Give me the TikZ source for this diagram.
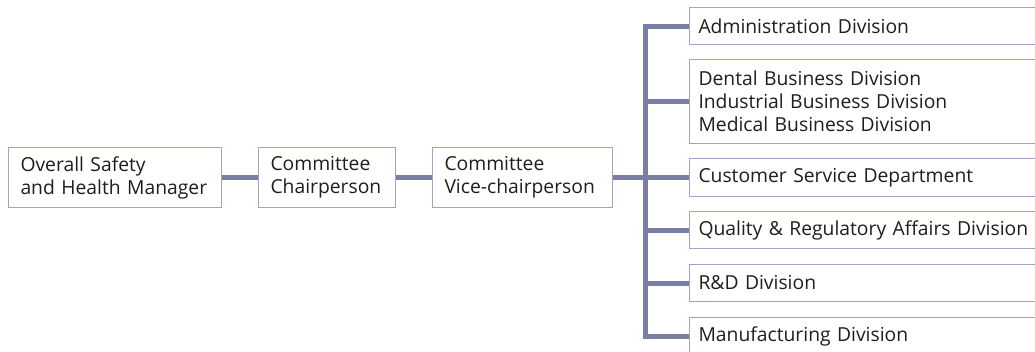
\documentclass[tikz,border=0pt]{standalone}
\usepackage{fontspec}
\setmainfont{Open Sans}
\definecolor{linec}{RGB}{122,126,166}
\definecolor{boxc}{RGB}{160,163,196}
\definecolor{txt}{RGB}{30,30,30}
\begin{document}
\begin{tikzpicture}[x=1pt,y=-1pt,
  box/.style={draw=boxc, line width=1pt, anchor=north west, inner ysep=0pt, align=left, text=txt, font=\fontsize{19.3}{23}\selectfont},
  conn/.style={draw=linec, line width=5pt, line join=miter}]
\useasboundingbox (0,0) rectangle (1035,351);
\clip (0,0) rectangle (1035,351);
\fill[white] (0,0) rectangle (1035,351);
% left chain
\node[box, inner xsep=12pt, text width=189pt, minimum height=60pt] (A) at (8,147) {Overall Safety\\and Health Manager};
\node[box, inner xsep=12pt, text width=113pt, minimum height=60pt] (B) at (258,147) {Committee\\Chairperson};
\node[box, inner xsep=12pt, text width=156pt, minimum height=60pt] (C) at (432,147) {Committee\\Vice-chairperson};
% right boxes
\tikzset{rbox/.style={box, inner xsep=9pt, text width=353pt}}
\node[rbox, minimum height=37pt] (R1) at (689,7) {Administration Division};
\node[rbox, minimum height=84pt] (R2) at (689,59) {Dental Business Division\\Industrial Business Division\\Medical Business Division};
\node[rbox, minimum height=38pt] (R3) at (689,158) {Customer Service Department};
\node[rbox, minimum height=37pt] (R4) at (689,211) {Quality \& Regulatory Affairs Division};
\node[rbox, minimum height=37pt] (R5) at (689,264) {R\&D Division};
\node[rbox, minimum height=37pt] (R6) at (689,317) {Manufacturing Division};
\coordinate (bus) at (645,177);
% connectors
\draw[conn] (A.east) -- (B.west);
\draw[conn] (B.east) -- (C.west);
\draw[conn] (C.east) -- (C.east -| bus);
\draw[conn] (R1.west) -- (bus |- R1.west) -- (bus |- R6.west) -- (R6.west);
\draw[conn] (bus |- R2.west) -- (R2.west);
\draw[conn] (bus |- R3.west) -- (R3.west);
\draw[conn] (bus |- R4.west) -- (R4.west);
\draw[conn] (bus |- R5.west) -- (R5.west);
\end{tikzpicture}
\end{document}
